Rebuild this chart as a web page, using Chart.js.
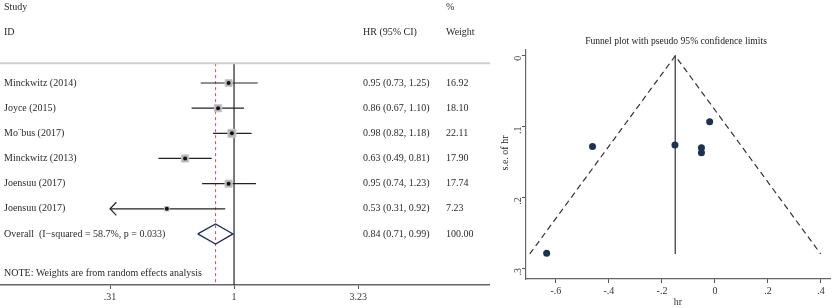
<!DOCTYPE html>
<html>
<head>
<meta charset="utf-8">
<script src="https://cdn.jsdelivr.net/npm/chart.js@4"></script>
<style>
  body { margin: 0; background: #fff; }
  #forest { position: absolute; left: 0; top: 0; }
  #funnel { position: absolute; left: 490px; top: 0; }
</style>
</head>
<body>
<canvas id="forest" width="490" height="308"></canvas>
<canvas id="funnel" width="345" height="308"></canvas>
<script>
// Forest plot data
const studies = ['Minckwitz (2014)', 'Joyce (2015)', 'Mo\u00A8bus (2017)', 'Minckwitz (2013)', 'Joensuu (2017)', 'Joensuu (2017)'];
const hr = [0.95, 0.86, 0.98, 0.63, 0.95, 0.53];
const ciLow = [0.73, 0.67, 0.82, 0.49, 0.74, 0.31];
const ciHigh = [1.25, 1.10, 1.18, 0.81, 1.23, 0.92];
const weights = [16.92, 18.10, 22.11, 17.90, 17.74, 7.23];
const overallLabel = 'Overall  (I\u2212squared = 58.7%, p = 0.033)';
const overallHr = 0.84;
const overallLow = 0.71;
const overallHigh = 0.99;
const forestTicks = [0.31, 1, 3.23];
const forestTickLabels = ['.31', '1', '3.23'];

// Funnel plot data
const funnelHr = [-0.051, -0.151, -0.020, -0.462, -0.051, -0.635];
const funnelSe = [0.137, 0.126, 0.093, 0.128, 0.130, 0.279];
const funnelCenter = -0.15;
const funnelSeMax = 0.28;
const funnelXTicks = [-0.6, -0.4, -0.2, 0, 0.2, 0.4];
const funnelXLabels = ['-.6', '-.4', '-.2', '0', '.2', '.4'];
const funnelYTicks = [0, 0.1, 0.2, 0.3];
const funnelYLabels = ['0', '.1', '.2', '.3'];

const serif = '"Liberation Serif", "DejaVu Serif", serif';
const ln = Math.log;
Chart.defaults.font.family = serif;
Chart.defaults.animation = false;

function fmt(v) { return v.toFixed(2); }

// ---------- forest plot ----------
// lower "order" is drawn on top
const forestSets = [];
const lineTop = -0.79, lineBottom = 8.03;

// null line and overall dashed line
forestSets.push({ type: 'line', order: 5, data: [{x: 0, y: lineTop}, {x: 0, y: lineBottom}],
  borderColor: '#222', borderWidth: 1.2, pointRadius: 0 });
forestSets.push({ type: 'line', order: 4, data: [{x: ln(overallHr), y: lineTop}, {x: ln(overallHr), y: lineBottom}],
  borderColor: '#e0465a', borderWidth: 1, borderDash: [3, 3], pointRadius: 0 });

studies.forEach((s, i) => {
  forestSets.push({ type: 'line', order: 3, data: [{x: ln(ciLow[i]), y: i}, {x: ln(ciHigh[i]), y: i}],
    borderColor: '#222', borderWidth: 1.2, pointRadius: 0 });
  if (ciLow[i] <= forestTicks[0]) {
    const tip = ln(forestTicks[0]);
    forestSets.push({ type: 'line', order: 3, data: [{x: tip + 0.06, y: i - 0.26}, {x: tip, y: i}, {x: tip + 0.06, y: i + 0.26}],
      borderColor: '#222', borderWidth: 1.2, pointRadius: 0 });
  }
});

// weight squares
forestSets.push({ type: 'scatter', order: 2,
  data: hr.map((v, i) => ({x: ln(v), y: i})),
  pointStyle: 'rect',
  pointRadius: weights.map(w => 1.7 * Math.sqrt(w) / 1.414),
  backgroundColor: '#b4b4b4', borderColor: '#c8c8c8', borderWidth: 1 });
// point estimates
forestSets.push({ type: 'scatter', order: 1,
  data: hr.map((v, i) => ({x: ln(v), y: i})),
  pointRadius: 2, backgroundColor: '#111', borderWidth: 0 });
// overall diamond
const oy = studies.length;
forestSets.push({ type: 'line', order: 1,
  data: [{x: ln(overallLow), y: oy}, {x: ln(overallHr), y: oy - 0.4}, {x: ln(overallHigh), y: oy},
         {x: ln(overallHr), y: oy + 0.4}, {x: ln(overallLow), y: oy}],
  borderColor: '#1f2a5c', borderWidth: 1.3, pointRadius: 0, fill: false });

const forestText = {
  id: 'forestText',
  afterDraw(chart) {
    const ctx = chart.ctx;
    const y = chart.scales.y;
    ctx.save();
    ctx.font = '10px ' + serif;
    ctx.fillStyle = '#2a2a2a';
    ctx.textBaseline = 'middle';
    ctx.textAlign = 'left';
    ctx.fillText('Study', 4, y.getPixelForValue(-3));
    ctx.fillText('ID', 4, y.getPixelForValue(-2));
    ctx.fillText('HR (95% CI)', 363, y.getPixelForValue(-2));
    ctx.fillText('%', 446, y.getPixelForValue(-3));
    ctx.fillText('Weight', 446, y.getPixelForValue(-2));
    studies.forEach((s, i) => {
      const py = y.getPixelForValue(i);
      ctx.fillText(s, 4, py);
      ctx.fillText(fmt(hr[i]) + ' (' + fmt(ciLow[i]) + ', ' + fmt(ciHigh[i]) + ')', 363, py);
      ctx.fillText(weights[i].toFixed(2), 446, py);
    });
    const py = y.getPixelForValue(oy);
    ctx.fillText(overallLabel, 4, py);
    ctx.fillText(fmt(overallHr) + ' (' + fmt(overallLow) + ', ' + fmt(overallHigh) + ')', 363, py);
    ctx.fillText('100.00', 446, py);
    ctx.fillText('NOTE: Weights are from random effects analysis', 4, y.getPixelForValue(7.55));
    // header separator
    ctx.strokeStyle = '#cfcfcf';
    ctx.lineWidth = 2;
    ctx.beginPath();
    ctx.moveTo(0, y.getPixelForValue(lineTop));
    ctx.lineTo(490, y.getPixelForValue(lineTop));
    ctx.stroke();
    ctx.restore();
  }
};

new Chart(document.getElementById('forest'), {
  type: 'scatter',
  data: { datasets: forestSets },
  options: {
    responsive: false,
    layout: { padding: 0, autoPadding: false },
    plugins: { legend: { display: false }, tooltip: { enabled: false } },
    scales: {
      x: {
        type: 'linear', min: -2.21, max: 2.417,
        afterBuildTicks: s => { s.ticks = forestTicks.map(v => ({value: ln(v)})); },
        afterFit: s => { s.height = 23; },
        ticks: { callback: (v, i) => forestTickLabels[i], color: '#333', font: { size: 10 }, padding: 2, maxRotation: 0 },
        grid: { drawOnChartArea: false, tickLength: 4, color: '#555' },
        border: { color: '#666', width: 1.5 }
      },
      y: { display: false, reverse: true, min: -3.3, max: 8.03 }
    }
  },
  plugins: [forestText]
});

// ---------- funnel plot ----------
const funnelText = {
  id: 'funnelText',
  afterDraw(chart) {
    const ctx = chart.ctx;
    ctx.save();
    ctx.font = '9.6px ' + serif;
    ctx.fillStyle = '#222';
    ctx.textAlign = 'center';
    ctx.textBaseline = 'middle';
    ctx.fillText('Funnel plot with pseudo 95% confidence limits', 186, 41);
    ctx.font = '10px ' + serif;
    ctx.translate(15, 153);
    ctx.rotate(-Math.PI / 2);
    ctx.fillText('s.e. of hr', 0, 0);
    ctx.restore();
  }
};

new Chart(document.getElementById('funnel'), {
  type: 'scatter',
  data: {
    datasets: [
      { type: 'scatter', order: 1, data: funnelHr.map((v, i) => ({x: v, y: funnelSe[i]})),
        pointRadius: 3.5, backgroundColor: '#1b3350', borderWidth: 0 },
      { type: 'line', order: 2, data: [{x: funnelCenter, y: 0}, {x: funnelCenter, y: funnelSeMax}],
        borderColor: '#333', borderWidth: 1.2, pointRadius: 0 },
      { type: 'line', order: 3,
        data: [{x: funnelCenter - 1.96 * funnelSeMax, y: funnelSeMax}, {x: funnelCenter, y: 0},
               {x: funnelCenter + 1.96 * funnelSeMax, y: funnelSeMax}],
        borderColor: '#333', borderWidth: 1.2, borderDash: [6, 4], pointRadius: 0 }
    ]
  },
  options: {
    responsive: false,
    layout: { padding: { top: 50, right: 5, left: 0, bottom: 0 }, autoPadding: false },
    plugins: { legend: { display: false }, tooltip: { enabled: false } },
    scales: {
      x: {
        type: 'linear', min: -0.713, max: 0.434,
        afterBuildTicks: s => { s.ticks = funnelXTicks.map(v => ({value: v})); },
        afterFit: s => { s.height = 29; },
        ticks: { callback: (v, i) => funnelXLabels[i], color: '#333', font: { size: 10 }, padding: 2, maxRotation: 0 },
        title: { display: true, text: 'hr', color: '#333', font: { size: 10 }, padding: 0 },
        grid: { drawOnChartArea: false, tickLength: 4, color: '#555' },
        border: { color: '#666', width: 1.2 }
      },
      y: {
        type: 'linear', reverse: true, min: -0.0083, max: 0.3154,
        afterBuildTicks: s => { s.ticks = funnelYTicks.map(v => ({value: v})); },
        afterFit: s => { s.width = 36; },
        ticks: { callback: (v, i) => funnelYLabels[i], color: '#333', font: { size: 10 }, padding: 4, minRotation: 90, maxRotation: 90 },
        grid: { drawOnChartArea: false, tickLength: 4, color: '#555' },
        border: { color: '#666', width: 1.2 }
      }
    }
  },
  plugins: [funnelText]
});
</script>
</body>
</html>
